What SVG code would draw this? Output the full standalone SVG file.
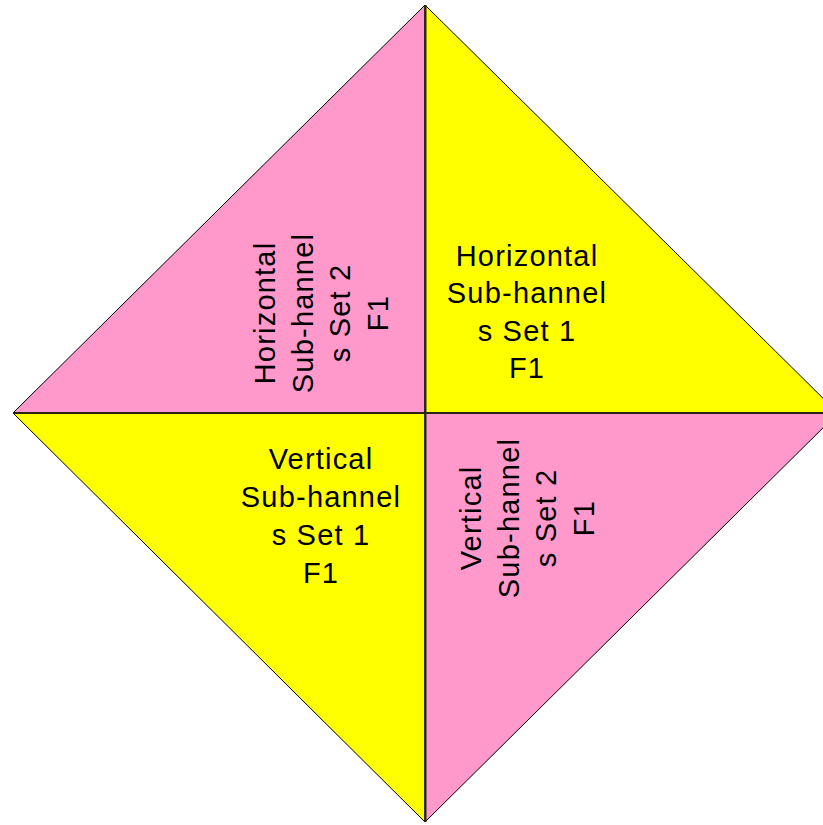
<svg xmlns="http://www.w3.org/2000/svg" width="823" height="825" viewBox="0 0 823 825">
<style>
.pink{fill:#FF99CC;stroke:#000;stroke-width:1}
.yellow{fill:#FFFF00;stroke:#000;stroke-width:1}
.lbl{font-family:"Liberation Sans",Arial,sans-serif;font-size:29px;letter-spacing:1.2px;fill:#000;text-anchor:middle}
.div{stroke:#2a2418;stroke-width:2;fill:none}
</style>
<rect width="823" height="825" fill="#fff"/>
<g id="h-set2">
<polygon class="pink" points="425,5 13,413 425,413"/>
<g transform="translate(0,313) rotate(-90)">
<text class="lbl" x="0" y="275">Horizontal</text>
<text class="lbl" x="0" y="312.5">Sub-hannel</text>
<text class="lbl" x="0" y="350">s Set 2</text>
<text class="lbl" x="0" y="387.5">F1</text>
</g>
</g>
<g id="h-set1">
<polygon class="yellow" points="425,5 838,413 425,413"/>
<text class="lbl" x="527" y="265.5">Horizontal</text>
<text class="lbl" x="527" y="303">Sub-hannel</text>
<text class="lbl" x="527" y="340.5">s Set 1</text>
<text class="lbl" x="527" y="378">F1</text>
</g>
<g id="v-set1">
<polygon class="yellow" points="13,413 425,413 425,822"/>
<text class="lbl" x="321" y="469">Vertical</text>
<text class="lbl" x="321" y="507">Sub-hannel</text>
<text class="lbl" x="321" y="545">s Set 1</text>
<text class="lbl" x="321" y="583">F1</text>
</g>
<g id="v-set2">
<polygon class="pink" points="425,413 838,413 425,822"/>
<g transform="translate(0,518) rotate(-90)">
<text class="lbl" x="0" y="481">Vertical</text>
<text class="lbl" x="0" y="518.5">Sub-hannel</text>
<text class="lbl" x="0" y="556">s Set 2</text>
<text class="lbl" x="0" y="593.5">F1</text>
</g>
</g>
<g id="connectors">
<line class="div" x1="13" y1="413" x2="838" y2="413"/>
<line class="div" x1="425.5" y1="5" x2="425.5" y2="822"/>
</g>
</svg>
